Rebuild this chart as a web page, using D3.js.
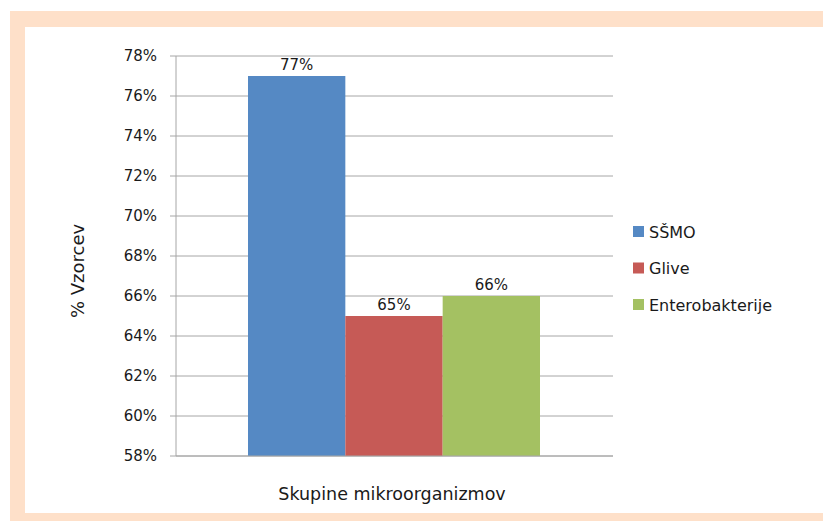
<!DOCTYPE html>
<html>
<head>
<meta charset="utf-8">
<script src="https://cdn.jsdelivr.net/npm/d3@7"></script>
<style>
  body { margin: 0; background: #fff; }
  text { font-family: "DejaVu Sans", sans-serif; fill: #1a1a1a; }
</style>
</head>
<body>
<script>
// podatki
const skupine = ["SŠMO", "Glive", "Enterobakterije"];
const vrednosti = [77, 65, 66];
const barve = ["#5589c4", "#c65a56", "#a4c162"];
const yTicks = [58, 60, 62, 64, 66, 68, 70, 72, 74, 76, 78];

const width = 823;
const height = 521;

const svg = d3.select("body").append("svg")
  .attr("width", width)
  .attr("height", height);

// okvir
svg.append("rect").attr("x", 10).attr("y", 11).attr("width", width - 10).attr("height", height - 11)
  .attr("fill", "#fee0c9");
svg.append("rect").attr("x", 25).attr("y", 27).attr("width", width - 25).attr("height", 486)
  .attr("fill", "#ffffff");

const plotL = 176, plotR = 613, plotT = 56, plotB = 456;

const y = d3.scaleLinear().domain([58, 78]).range([plotB, plotT]);
const x = d3.scaleBand().domain(skupine).range([248, 540]);

// mreža
svg.append("g").selectAll("line")
  .data(yTicks)
  .enter().append("line")
  .attr("x1", plotL - 6).attr("x2", plotR)
  .attr("y1", d => y(d)).attr("y2", d => y(d))
  .attr("stroke", "#a6a6a6").attr("stroke-width", 1);

svg.append("line").attr("x1", plotL).attr("x2", plotL).attr("y1", plotT).attr("y2", plotB)
  .attr("stroke", "#a6a6a6");

svg.append("g").selectAll("text")
  .data(yTicks)
  .enter().append("text")
  .attr("x", 157).attr("y", d => y(d))
  .attr("dy", "0.35em")
  .attr("text-anchor", "end")
  .style("font-size", "15px")
  .text(d => d + "%");

// stolpci
svg.append("g").selectAll("rect")
  .data(vrednosti)
  .enter().append("rect")
  .attr("x", (d, i) => x(skupine[i]))
  .attr("y", d => y(d))
  .attr("width", x.bandwidth())
  .attr("height", d => plotB - y(d))
  .attr("fill", (d, i) => barve[i]);

svg.append("line").attr("x1", plotL).attr("x2", plotR).attr("y1", plotB).attr("y2", plotB)
  .attr("stroke", "#a6a6a6");

svg.append("g").selectAll("text")
  .data(vrednosti)
  .enter().append("text")
  .attr("x", (d, i) => x(skupine[i]) + x.bandwidth() / 2)
  .attr("y", d => y(d) - 6)
  .attr("text-anchor", "middle")
  .style("font-size", "15px")
  .text(d => d + "%");

// naslovi osi
svg.append("text")
  .attr("transform", "translate(84,271) rotate(-90)")
  .attr("text-anchor", "middle")
  .style("font-size", "18px")
  .text("% Vzorcev");

svg.append("text")
  .attr("x", 392).attr("y", 500)
  .attr("text-anchor", "middle")
  .style("font-size", "17.5px")
  .text("Skupine mikroorganizmov");

// legenda
const legenda = svg.append("g").selectAll("g")
  .data(skupine)
  .enter().append("g")
  .attr("transform", (d, i) => "translate(633," + (232 + i * 36.5) + ")");

legenda.append("rect")
  .attr("x", 0).attr("y", -6).attr("width", 11).attr("height", 11)
  .attr("fill", (d, i) => barve[i]);

legenda.append("text")
  .attr("x", 16).attr("y", 0)
  .attr("dy", "0.35em")
  .style("font-size", "16px")
  .text(d => d);
</script>
</body>
</html>
